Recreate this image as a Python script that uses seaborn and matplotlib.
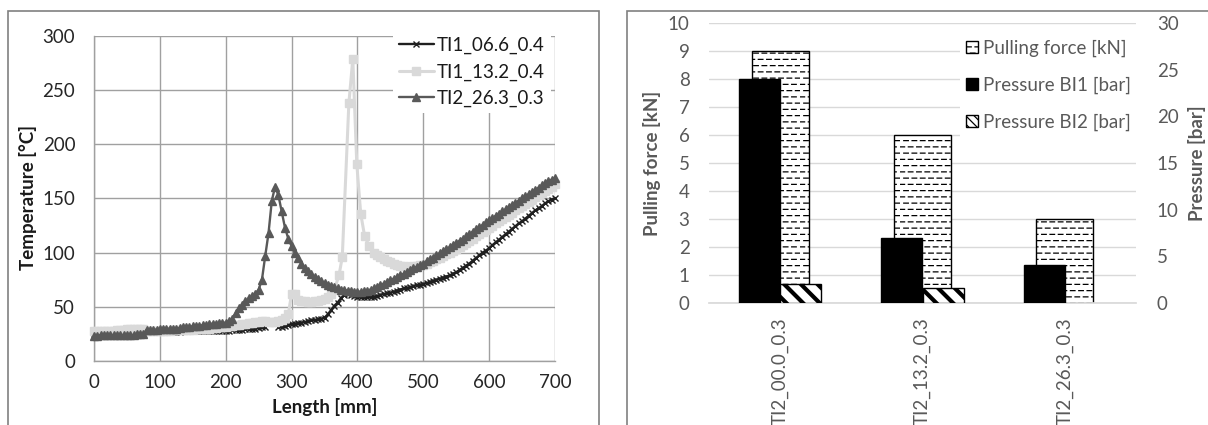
import warnings
import numpy as np
import pandas as pd
import matplotlib
matplotlib.use("Agg")
import matplotlib.pyplot as plt
import matplotlib.hatch as mhatch
from matplotlib.path import Path
from matplotlib.patches import Rectangle, Patch
import seaborn as sns

# ---------------- data: left chart (temperature profiles) ----------------
LEN_GRID = list(range(0, 705, 5))  # 5 mm sampling grid

TI1_066 = [25]*16 + [
    27, 27, 27, 27, 27, 27, 27, 27, 27, 27, 27, 27.5, 27.5, 27.5, 27.5, 27.5, 27.5, 27.5, 28, 28, 28, 28, 28, 28,
    28, 28, 28.5, 29, 29, 29, 29.5, 30, 30, 30, 30.5, 31, 31,
    np.nan, np.nan, np.nan,
    31, 31.5, 32, 33, 34, 34.5, 35, 35.5, 36, 37,
    37.5, 38, 38.5, 39, 40, 43, 47, 51, 54, 58,
    61, 62, 61, 60, 59, 59, 59, 59, 59, 59.5,
    60, 61, 62, 62.5, 63, 64, 65, 66, 67, 67.5,
    68, 69, 70, 70.5, 71,
    72, 73, 74, 75, 76, 77, 78, 79, 80.5, 82,
    84, 86, 88, 90, 92.5, 95, 97.5, 100, 102, 104,
    107, 109.5, 112, 114.5, 117, 119.5, 122, 124.5, 127, 129,
    131.5, 134, 136.5, 139, 141, 143, 145.5, 147.5, 149, 150.5]

TI2_263 = [
    23, 23.5, 24, 24, 24, 24, 24, 24, 24, 24, 24, 24, 24, 24.5, 24.5, 24.5,
    29, 29, 29, 29, 29.5, 29.5, 29.5, 30, 30, 30, 30.5, 31, 31, 31.5, 32, 32, 32.5, 33, 33.5, 34, 34.5, 34.5, 35, 35,
    35.5, 37, 39, 44, 49, 52, 55, 58, 60, 62, 66, 75, 97, 118, 148, 161, 153, 138, 123, 113, 106,
    100, 95, 90, 86, 83, 80, 77.5, 75.5, 73.5, 72, 70.5, 69, 68, 67, 66, 65.5, 65, 64.5, 64, 64,
    64, 64.5, 65, 66, 67, 68.5, 70, 71.5, 73, 74.5, 76, 77.5, 79, 80.5, 82, 84, 85.5, 87, 88.5, 90,
    92, 94, 95.5, 97.5, 99.5, 101.5, 103, 105, 107, 109,
    111, 113, 115, 117, 119.5, 121.5, 123.5, 125.5, 128, 130,
    132, 134, 136, 138, 140, 142, 144, 146, 148, 150,
    152, 154, 156, 158, 160, 162, 164, 166, 167.5, 169]

LEN_132 = list(range(0, 370, 5)) + [372, 377, 387, 393, 399, 405, 411, 418, 425] + list(range(430, 705, 5))
TI1_132 = [
    28, 28, 28, 28, 28, 28, 28, 28.5, 29, 29, 29.5, 30, 30, 30, 30, 30,
    28, 28, 28, 28, 28, 28, 28, 28, 28.5, 28.5, 28.5, 29, 29, 29, 29, 29.5, 29.5, 30, 30, 30, 30.5, 30.5, 31, 31,
    31.5, 32, 32.5, 33, 33.5, 34, 34.5, 35, 35.5, 36, 36, 36.5, 36.5, 36, 36, 36, 37, 38, 40, 43,
    62, 62, 56, 55, 55, 54.5, 54.5, 55, 55, 56, 57, 59, 62, 66,
    79, 96, 238, 279, 182, 136, 115, 106, 100,
    98, 96, 94, 92, 91, 90, 89, 88, 87.5, 87, 87, 87.5, 88, 88.5, 89,
    90, 91, 92.5, 94, 95.5, 97, 98.5, 100, 101.5, 103,
    105, 107, 109, 111, 113, 115, 117, 119, 121, 123,
    125, 127, 129, 131, 133, 135, 137, 139, 141, 143,
    145, 147, 149, 151, 153, 155, 157, 159, 161, 163]

SERIES_NAMES = ["TI1_06.6_0.4", "TI1_13.2_0.4", "TI2_26.3_0.3"]
X_TICKS_L = [0, 100, 200, 300, 400, 500, 600, 700]
Y_TICKS_L = [0, 50, 100, 150, 200, 250, 300]

# ---------------- data: right chart (bars) ----------------
CATS = ["TI2_00.0_0.3", "TI2_13.2_0.3", "TI2_26.3_0.3"]
PULLING_FORCE = [9, 6, 3]          # kN
PRESSURE_BI1 = [24, 7, 4.1]        # bar
PRESSURE_BI2 = [2.05, 1.65, 0]     # bar
BAR_NAMES = ["Pulling force [kN]", "Pressure BI1 [bar]", "Pressure BI2 [bar]"]


# ---------------- custom dashed-row hatch ('~') ----------------
class _DashRows(mhatch.HatchPatternBase):
    ROWS = 16
    DASHES = 12

    def __init__(self, hatch, density):
        n = hatch.count('~')
        self.num_rows = self.ROWS * n
        self.num_vertices = self.num_rows * self.DASHES * 2

    def set_vertices_and_codes(self, vertices, codes):
        k = 0
        for r in range(self.num_rows):
            y = (r + 0.5) / self.num_rows
            off = 0.0 if r % 2 == 0 else 0.45 / self.DASHES
            for d in range(self.DASHES):
                x0 = d / self.DASHES + off
                x1 = min(x0 + 0.55 / self.DASHES, 1.0)
                vertices[k] = (x0, y)
                vertices[k + 1] = (x1, y)
                codes[k] = Path.MOVETO
                codes[k + 1] = Path.LINETO
                k += 2


mhatch._hatch_types.append(_DashRows)
warnings.filterwarnings("ignore")

sns.set_theme(style="white")
plt.rcParams["font.family"] = ["Lato", "DejaVu Sans"]

W, H = 1208, 425
fig = plt.figure(figsize=(W / 100, H / 100), dpi=100)


def fx(px):
    return px / W


def fy(py):
    return 1 - py / H


FS = 13.5
GRID_L = "#a0a0a0"

# ================= left chart =================
ax1 = fig.add_axes([fx(94), fy(361), fx(555) - fx(94), fy(36) - fy(361)])
df_l = pd.DataFrame({"x": LEN_GRID, "a": TI1_066, "c": TI2_263})
h1, = ax1.plot(df_l["x"], df_l["a"], color="#1f1f1f", lw=1.7, marker="x", ms=4.5, mew=1.0,
               label=SERIES_NAMES[0], clip_on=False, zorder=3)
h2, = ax1.plot(LEN_132, TI1_132, color="#d9d9d9", lw=2.2, marker="s", ms=5.5, mec="#d9d9d9",
               label=SERIES_NAMES[1], clip_on=False, zorder=4)
h3, = ax1.plot(df_l["x"], df_l["c"], color="#595959", lw=1.7, marker="^", ms=6, mec="#595959",
               label=SERIES_NAMES[2], clip_on=False, zorder=5)
ax1.set_xlim(0, 700)
ax1.set_ylim(0, 300)
ax1.set_xticks(X_TICKS_L)
ax1.set_yticks(Y_TICKS_L)
ax1.grid(True, color=GRID_L, lw=1)
ax1.set_axisbelow(True)
for s in ["top", "right"]:
    ax1.spines[s].set_visible(False)
for s in ["left", "bottom"]:
    ax1.spines[s].set_color(GRID_L)
    ax1.spines[s].set_linewidth(1)
ax1.tick_params(axis="both", direction="out", length=4.5, width=1, color=GRID_L,
                labelcolor="#262626", labelsize=FS)
ax1.tick_params(axis="x", pad=5)
ax1.tick_params(axis="y", pad=9)
leg1 = ax1.legend(handles=[h1, h2, h3], loc="upper left", bbox_to_anchor=(fx(393), fy(31)),
                  bbox_transform=fig.transFigure, frameon=True, facecolor="white", edgecolor="none",
                  framealpha=1, fontsize=FS, handlelength=1.9, handletextpad=0.15, labelspacing=0.5,
                  borderpad=0.3, borderaxespad=0, fancybox=False)
leg1.set_zorder(10)
for t in leg1.get_texts():
    t.set_color("#1a1a1a")

fig.text(fx(28), fy(198), "Temperature [°C]", rotation=90, ha="center", va="center",
         fontsize=FS, fontweight="bold", color="#1a1a1a")
fig.text(fx(325), fy(407), "Length [mm]", ha="center", va="center",
         fontsize=FS, fontweight="bold", color="#1a1a1a")

# ================= right chart =================
GRAY_T = "#595959"
ax2 = fig.add_axes([fx(709), fy(303), fx(1136) - fx(709), fy(23) - fy(303)])
df_f = pd.DataFrame({"cat": CATS, "val": PULLING_FORCE})
plt.rcParams["hatch.linewidth"] = 0.9
sns.barplot(data=df_f, x="cat", y="val", width=0.4, color="white", saturation=1,
            edgecolor="black", linewidth=1, ax=ax2, zorder=2)
for p in ax2.patches:
    p.set_hatch("~")
    if hasattr(p, "set_hatch_linewidth"):
        p.set_hatch_linewidth(0.9)
ax2.set_ylim(0, 10)
ax2.set_yticks(range(0, 11))
ax2.grid(True, axis="y", color="#d9d9d9", lw=1)
ax2.grid(False, axis="x")
ax2.set_axisbelow(True)
for s in ["top", "right", "left"]:
    ax2.spines[s].set_visible(False)
ax2.spines["bottom"].set_color("#d9d9d9")
ax2.tick_params(axis="both", length=0, labelcolor=GRAY_T, labelsize=FS)
ax2.tick_params(axis="y", pad=14)
ax2.tick_params(axis="x", pad=10, labelrotation=90)
ax2.set_xlabel("")
ax2.set_ylabel("")

ax3 = ax2.twinx()
df_p = pd.DataFrame({
    "cat": CATS * 2,
    "series": [BAR_NAMES[1]] * 3 + [BAR_NAMES[2]] * 3,
    "val": PRESSURE_BI1 + PRESSURE_BI2,
})
plt.rcParams["hatch.linewidth"] = 3.0
sns.barplot(data=df_p, x="cat", y="val", hue="series", hue_order=BAR_NAMES[1:],
            palette={BAR_NAMES[1]: "black", BAR_NAMES[2]: "white"}, width=0.58, saturation=1,
            edgecolor="black", linewidth=1, ax=ax3, legend=False)
for p in ax3.patches:
    fc = p.get_facecolor()
    if p.get_height() == 0:
        p.set_visible(False)
    if fc[0] > 0.5:
        p.set_hatch("\\\\")
        if hasattr(p, "set_hatch_linewidth"):
            p.set_hatch_linewidth(3.0)
ax3.set_ylim(0, 30)
ax3.set_yticks(range(0, 31, 5))
for s in ["top", "right", "left", "bottom"]:
    ax3.spines[s].set_visible(False)
ax3.tick_params(axis="y", length=0, labelcolor=GRAY_T, labelsize=FS, pad=15)
ax3.set_ylabel("")
ax3.set_xlabel("")
ax2.set_xlim(-0.5, 2.5)

plt.rcParams["hatch.linewidth"] = 0.9
leg_handles = [
    Patch(facecolor="white", edgecolor="black", hatch="~", lw=1),
    Patch(facecolor="black", edgecolor="black", lw=1),
    Patch(facecolor="white", edgecolor="black", hatch="\\\\\\\\", lw=1),
]
leg2 = ax3.legend(handles=leg_handles, labels=BAR_NAMES, loc="upper right",
                  bbox_to_anchor=(fx(1137), fy(34)), bbox_transform=fig.transFigure,
                  frameon=True, facecolor="white", edgecolor="none", framealpha=1, fancybox=False,
                  fontsize=FS, handlelength=0.65, handleheight=0.65, handletextpad=0.3,
                  labelspacing=1.05, borderpad=0.3, borderaxespad=0)
for t in leg2.get_texts():
    t.set_color(GRAY_T)
leg2.set_zorder(10)

fig.text(fx(652), fy(163), "Pulling force [kN]", rotation=90, ha="center", va="center",
         fontsize=FS, fontweight="bold", color=GRAY_T)
fig.text(fx(1197), fy(163), "Pressure [bar]", rotation=90, ha="center", va="center",
         fontsize=FS, fontweight="bold", color=GRAY_T)

# ================= panel frames =================
fig.add_artist(Rectangle((fx(8), -0.02), fx(599) - fx(8), fy(11) + 0.02, transform=fig.transFigure,
                         fill=False, ec="#808080", lw=1.2))
fig.add_artist(Rectangle((fx(627), -0.02), fx(1230) - fx(627), fy(11) + 0.02, transform=fig.transFigure,
                         fill=False, ec="#808080", lw=1.2, clip_on=False))

fig.savefig("out.png", dpi=100)
